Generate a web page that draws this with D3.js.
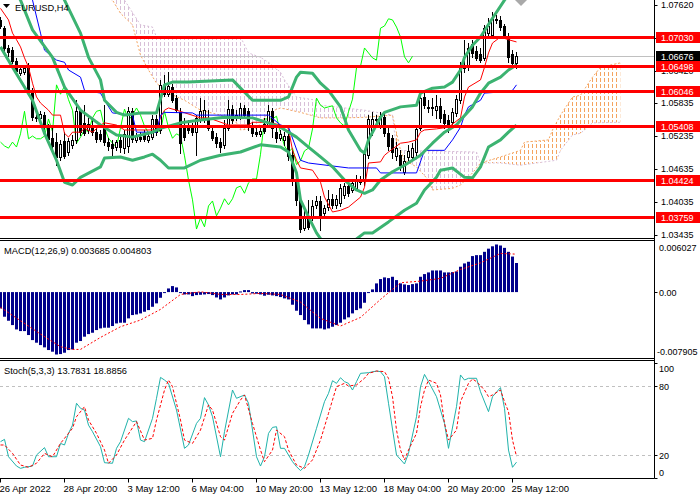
<!DOCTYPE html>
<html>
<head>
<meta charset="utf-8">
<script src="https://cdn.jsdelivr.net/npm/d3@7/dist/d3.min.js"></script>
<style>
  body { margin: 0; background: #fff; }
  svg { display: block; font-family: "Liberation Sans", Arial, sans-serif; font-size: 9.3px; }
  .axis { font-size: 9px; }
  .date { font-size: 9.5px; }
</style>
</head>
<body>
<div id="chart"></div>
<script>
// EURUSD H4 candles, bar 0 = 26 Apr 2022 04:00
const open = [
  1.0734,1.0719,1.0683,1.0679,1.0659,1.0638,1.0639,1.0648,1.0605,1.0558,
  1.0556,1.0561,1.0539,1.0519,1.0512,1.0485,1.0514,1.0494,1.0507,1.0516,
  1.0568,1.0547,1.0534,1.0541,1.0531,1.0527,1.0538,1.0512,1.0509,1.0503,
  1.0516,1.0501,1.0505,1.0568,1.0516,1.0521,1.0527,1.0516,1.0521,1.0554,
  1.0534,1.0616,1.0599,1.0612,1.0592,1.0567,1.0543,1.0543,1.0539,1.0531,
  1.0552,1.0556,1.0556,1.0532,1.0521,1.0512,1.0507,1.0538,1.0572,1.0556,
  1.0558,1.0574,1.0568,1.0539,1.0531,1.0527,1.0545,1.0543,1.0568,1.0531,
  1.0519,1.0516,1.0523,1.0489,1.0439,1.0407,1.0356,1.0374,1.0376,1.0398,
  1.0405,1.0383,1.0394,1.0409,1.0398,1.0401,1.0416,1.0432,1.0425,1.0429,
  1.0439,1.0441,1.0489,1.0532,1.0552,1.0543,1.0558,1.0529,1.0519,1.0487,
  1.0489,1.0458,1.0485,1.0485,1.0494,1.0538,1.0594,1.0576,1.0574,1.0570,
  1.0578,1.0563,1.0552,1.0549,1.0565,1.0589,1.0647,1.0648,1.0690,1.0678,
  1.0672,1.0665,1.0710,1.0707,1.0736,1.0734,1.0723,1.0701,1.0672,1.0656
]
const high = [
  1.0739,1.0723,1.0688,1.0685,1.0665,1.0650,1.0652,1.0656,1.0610,1.0570,
  1.0568,1.0567,1.0545,1.0538,1.0529,1.0516,1.0531,1.0519,1.0525,1.0589,
  1.0574,1.0579,1.0556,1.0552,1.0538,1.0534,1.0579,1.0519,1.0516,1.0516,
  1.0521,1.0534,1.0576,1.0574,1.0529,1.0531,1.0534,1.0531,1.0561,1.0561,
  1.0625,1.0634,1.0639,1.0618,1.0598,1.0574,1.0556,1.0552,1.0547,1.0561,
  1.0592,1.0589,1.0570,1.0538,1.0529,1.0519,1.0552,1.0589,1.0579,1.0570,
  1.0583,1.0579,1.0574,1.0549,1.0538,1.0539,1.0556,1.0579,1.0574,1.0538,
  1.0534,1.0531,1.0534,1.0498,1.0443,1.0416,1.0389,1.0407,1.0407,1.0414,
  1.0414,1.0398,1.0425,1.0418,1.0416,1.0436,1.0438,1.0436,1.0443,1.0452,
  1.0450,1.0498,1.0561,1.0567,1.0561,1.0567,1.0565,1.0538,1.0525,1.0512,
  1.0498,1.0489,1.0507,1.0510,1.0543,1.0601,1.0601,1.0589,1.0592,1.0598,
  1.0592,1.0570,1.0561,1.0574,1.0598,1.0658,1.0698,1.0692,1.0698,1.0687,
  1.0683,1.0725,1.0737,1.0748,1.0743,1.0741,1.0727,1.0710,1.0679,1.0676
]
const low = [
  1.0719,1.0676,1.0668,1.0656,1.0636,1.0634,1.0636,1.0599,1.0552,1.0550,
  1.0552,1.0534,1.0512,1.0498,1.0471,1.0480,1.0483,1.0489,1.0501,1.0510,
  1.0525,1.0525,1.0529,1.0525,1.0512,1.0514,1.0507,1.0498,1.0489,1.0498,
  1.0494,1.0492,1.0494,1.0512,1.0512,1.0514,1.0514,1.0512,1.0518,1.0525,
  1.0529,1.0596,1.0596,1.0585,1.0567,1.0492,1.0516,1.0529,1.0525,1.0489,
  1.0549,1.0549,1.0534,1.0516,1.0503,1.0494,1.0501,1.0534,1.0547,1.0552,
  1.0554,1.0556,1.0534,1.0523,1.0523,1.0523,1.0529,1.0539,1.0521,1.0512,
  1.0516,1.0507,1.0480,1.0434,1.0398,1.0349,1.0352,1.0354,1.0370,1.0392,
  1.0352,1.0378,1.0389,1.0392,1.0392,1.0396,1.0410,1.0414,1.0421,1.0425,
  1.0436,1.0434,1.0483,1.0525,1.0543,1.0538,1.0523,1.0498,1.0483,1.0480,
  1.0461,1.0454,1.0480,1.0480,1.0489,1.0534,1.0574,1.0567,1.0561,1.0556,
  1.0549,1.0538,1.0531,1.0543,1.0559,1.0583,1.0639,1.0643,1.0667,1.0661,
  1.0658,1.0661,1.0705,1.0703,1.0728,1.0716,1.0701,1.0658,1.0652,1.0647
]
const close = [
  1.0723,1.0683,1.0676,1.0659,1.0641,1.0645,1.0647,1.0605,1.0558,1.0556,
  1.0563,1.0539,1.0518,1.0505,1.0485,1.0509,1.0487,1.0514,1.0516,1.0568,
  1.0531,1.0529,1.0545,1.0531,1.0518,1.0518,1.0512,1.0505,1.0501,1.0512,
  1.0503,1.0527,1.0568,1.0518,1.0523,1.0518,1.0518,1.0523,1.0554,1.0531,
  1.0616,1.0599,1.0614,1.0589,1.0570,1.0510,1.0521,1.0534,1.0531,1.0556,
  1.0568,1.0570,1.0538,1.0519,1.0510,1.0503,1.0538,1.0572,1.0552,1.0561,
  1.0574,1.0561,1.0541,1.0529,1.0527,1.0532,1.0532,1.0568,1.0538,1.0519,
  1.0527,1.0523,1.0487,1.0443,1.0407,1.0354,1.0374,1.0358,1.0396,1.0405,
  1.0378,1.0392,1.0409,1.0398,1.0409,1.0429,1.0432,1.0419,1.0438,1.0445,
  1.0445,1.0490,1.0554,1.0554,1.0554,1.0559,1.0529,1.0505,1.0494,1.0501,
  1.0471,1.0478,1.0496,1.0501,1.0536,1.0592,1.0579,1.0574,1.0576,1.0578,
  1.0556,1.0547,1.0541,1.0567,1.0590,1.0647,1.0650,1.0683,1.0674,1.0665,
  1.0661,1.0719,1.0723,1.0736,1.0734,1.0721,1.0703,1.0667,1.0656,1.0668
]

// indicator lines as [bar index, value]
const tenkan = [[0,1.0755],[2,1.0734],[3,1.0710],[4,1.0698],[5,1.0685],[6,1.0665],[7,1.0648],[8,1.0619],[9,1.0594],[10,1.0583],[12,1.0570],[13,1.0561],[15,1.0561],[16,1.0528],[17,1.0521],[18,1.0530],[20,1.0530],[21,1.0537],[23,1.0530],[25,1.0543],[26,1.0547],[29,1.0543],[31,1.0534],[39,1.0534],[40,1.0557],[41,1.0570],[42,1.0574],[44,1.0570],[50,1.0556],[52,1.0556],[57,1.0543],[62,1.0543],[63,1.0548],[67,1.0548],[70,1.0543],[72,1.0537],[73,1.0497],[74,1.0479],[75,1.0465],[78,1.0461],[80,1.0439],[81,1.0412],[83,1.0385],[85,1.0388],[87,1.0394],[90,1.0412],[91,1.0430],[92,1.0474],[95,1.0476],[96,1.0488],[97,1.0494],[100,1.0510],[102,1.0512],[104,1.0516],[105,1.0530],[106,1.0534],[109,1.0536],[112,1.0539],[115,1.0556],[116,1.0594],[117,1.0612],[120,1.0625],[121,1.0648],[122,1.0674],[123,1.0692],[125,1.0703],[127,1.0698],[129,1.0694]]
const kijun = [[0,1.0861],[5,1.0806],[8,1.0770],[10,1.0710],[11,1.0679],[14,1.0661],[16,1.0657],[17,1.0643],[20,1.0630],[21,1.0606],[25,1.0601],[26,1.0588],[28,1.0565],[33,1.0561],[34,1.0530],[39,1.0530],[40,1.0561],[41,1.0566],[48,1.0565],[49,1.0561],[67,1.0561],[70,1.0543],[72,1.0539],[75,1.0479],[77,1.0474],[87,1.0465],[94,1.0465],[95,1.0456],[104,1.0456],[106,1.0497],[111,1.0497],[113,1.0516],[115,1.0539],[116,1.0561],[117,1.0576],[120,1.0588],[121,1.0601],[125,1.0603],[128,1.0606],[129,1.0616]]
const spanA = [[0,1.0843],[28,1.0770],[30,1.0746],[33,1.0725],[35,1.0670],[37,1.0643],[39,1.0619],[42,1.0601],[46,1.0588],[50,1.0570],[55,1.0561],[59,1.0547],[60,1.0534],[64,1.0537],[67,1.0566],[70,1.0574],[75,1.0566],[80,1.0556],[86,1.0556],[91,1.0557],[98,1.0561],[100,1.0497],[101,1.0479],[104,1.0467],[107,1.0443],[108,1.0425],[113,1.0428],[115,1.0434],[118,1.0456],[120,1.0474],[125,1.0485],[130,1.0497],[131,1.0512],[137,1.0516],[138,1.0534],[140,1.0561],[143,1.0594],[145,1.0597],[148,1.0630],[150,1.0648],[155,1.0656]]
const spanB = [[0,1.0916],[31,1.0770],[35,1.0725],[38,1.0721],[39,1.0703],[60,1.0703],[62,1.0674],[65,1.0666],[67,1.0657],[70,1.0639],[71,1.0625],[74,1.0594],[79,1.0588],[80,1.0579],[91,1.0570],[98,1.0561],[99,1.0497],[119,1.0494],[120,1.0474],[125,1.0474],[130,1.0470],[139,1.0479],[140,1.0497],[143,1.0525],[145,1.0528],[146,1.0534],[148,1.0547],[155,1.0548]]
const bbUpper = [[5,1.0916],[11,1.0843],[16,1.0770],[20,1.0710],[22,1.0666],[25,1.0625],[26,1.0588],[29,1.0566],[31,1.0561],[35,1.0565],[39,1.0565],[41,1.0616],[43,1.0621],[47,1.0621],[58,1.0625],[60,1.0610],[63,1.0588],[70,1.0588],[72,1.0594],[74,1.0630],[75,1.0639],[78,1.0637],[80,1.0619],[82,1.0606],[85,1.0576],[87,1.0534],[90,1.0497],[91,1.0492],[92,1.0516],[95,1.0557],[96,1.0566],[100,1.0576],[104,1.0579],[105,1.0601],[108,1.0610],[111,1.0612],[113,1.0621],[115,1.0643],[116,1.0666],[118,1.0688],[120,1.0703],[123,1.0737],[126,1.0770],[129,1.0797]]
const bbMiddle = [[0,1.0825],[5,1.0770],[8,1.0716],[13,1.0666],[16,1.0612],[20,1.0570],[25,1.0543],[29,1.0525],[33,1.0521],[38,1.0530],[40,1.0537],[45,1.0547],[50,1.0552],[56,1.0557],[63,1.0556],[67,1.0547],[70,1.0539],[74,1.0521],[77,1.0503],[80,1.0485],[83,1.0467],[86,1.0443],[89,1.0425],[91,1.0419],[93,1.0425],[95,1.0443],[98,1.0458],[101,1.0470],[105,1.0488],[108,1.0510],[111,1.0530],[114,1.0543],[115,1.0552],[118,1.0576],[120,1.0601],[122,1.0619],[125,1.0630],[127,1.0643],[129,1.0652]]
const bbLower = [[0,1.0685],[3,1.0648],[8,1.0588],[11,1.0528],[14,1.0479],[16,1.0439],[18,1.0434],[20,1.0448],[25,1.0467],[26,1.0483],[30,1.0485],[33,1.0479],[36,1.0485],[38,1.0490],[40,1.0479],[42,1.0465],[46,1.0465],[50,1.0479],[55,1.0488],[60,1.0494],[65,1.0507],[70,1.0503],[72,1.0494],[74,1.0456],[75,1.0407],[77,1.0376],[79,1.0347],[82,1.0316],[86,1.0312],[89,1.0336],[91,1.0347],[93,1.0347],[97,1.0367],[101,1.0388],[104,1.0401],[106,1.0425],[109,1.0448],[110,1.0461],[113,1.0465],[116,1.0448],[118,1.0447],[120,1.0467],[122,1.0503],[125,1.0516],[127,1.0530],[129,1.0543]]
const chikouShift = 26

const priceTicks = [1.07620, 1.07020, 1.06420, 1.05835, 1.05235, 1.04635, 1.04035, 1.03435]
const levels = [1.07030, 1.06498, 1.06046, 1.05408, 1.04424, 1.03759]
const bid = 1.06676

// MACD(12,26,9)
const macdHist = [
  -0.00207,-0.00312,-0.00363,-0.00418,-0.00473,-0.00494,-0.00494,-0.00544,-0.00608,-0.00641,
  -0.00671,-0.00700,-0.00734,-0.00755,-0.007905,-0.00785,-0.00768,-0.00734,-0.00726,-0.00641,
  -0.00620,-0.00565,-0.00532,-0.00515,-0.00481,-0.00460,-0.00451,-0.00451,-0.00430,-0.00397,
  -0.00388,-0.00388,-0.00333,-0.00291,-0.00283,-0.00270,-0.00249,-0.00228,-0.00186,-0.00143,
  -0.00072,-0.00008,0.00046,0.00076,0.00059,-0.00004,-0.00030,-0.00030,-0.00051,-0.00038,
  -0.00034,-0.00030,-0.00025,-0.00038,-0.00068,-0.00093,-0.00068,-0.00042,-0.00030,-0.00030,
  0.00008,0.00025,0.00025,-0.00017,-0.00021,-0.00030,-0.00046,-0.00034,-0.00042,-0.00051,
  -0.00063,-0.00080,-0.00093,-0.00160,-0.00236,-0.00291,-0.00354,-0.00409,-0.00460,-0.00460,
  -0.00460,-0.00473,-0.00460,-0.00439,-0.00418,-0.00388,-0.00346,-0.00320,-0.00270,-0.00228,
  -0.00207,-0.00135,-0.00008,0.00034,0.00110,0.00165,0.00186,0.00177,0.00194,0.00152,
  0.00110,0.00097,0.00089,0.00101,0.00110,0.00194,0.00228,0.00249,0.00274,0.00274,
  0.00274,0.00249,0.00249,0.00253,0.00262,0.00321,0.00363,0.00384,0.00456,0.00468,
  0.00468,0.00510,0.00550,0.00580,0.00603,0.00590,0.00560,0.00510,0.00450,0.003685
]
const macdSignal = [[0,-0.00194],[5,-0.00363],[10,-0.00532],[15,-0.00692],[18,-0.00726],[20,-0.00726],[25,-0.00574],[30,-0.00439],[35,-0.00354],[40,-0.00219],[45,-0.00030],[50,0.00004],[55,-0.00030],[60,-0.00030],[65,-0.00017],[70,-0.00030],[75,-0.00127],[80,-0.00333],[85,-0.00430],[90,-0.00321],[95,-0.00093],[100,0.00118],[105,0.00139],[110,0.00173],[115,0.00287],[120,0.00370],[125,0.00490],[129,0.004803]]
const macdRange = [-0.007905, 0.006027]

// Stochastic(5,3,3)
const stochK = [[0,31.6],[1,33.6],[2,18.5],[4,10.4],[5,8.4],[6,9.3],[8,10.4],[9,20],[11,26.4],[12,18.5],[14,18.5],[15,30.1],[16,28.7],[17,38.8],[18,46],[19,65],[20,60.6],[21,59],[22,46],[23,40.3],[25,27.2],[26,13.3],[28,12.8],[29,25.8],[30,31.6],[32,51.9],[33,49],[34,49.6],[35,33],[36,31.6],[38,51.9],[39,69.3],[40,87.5],[41,85.2],[42,82.3],[44,59.1],[46,25.8],[47,28.7],[49,47.5],[50,51.9],[51,69.9],[52,63.5],[53,53.3],[55,18.5],[56,40.3],[58,76.5],[59,69.3],[61,72.2],[62,65],[64,18.5],[65,10.4],[66,18.5],[67,38.8],[68,44],[69,44.6],[70,25.8],[71,25.8],[72,20],[73,14.2],[74,9.9],[75,6.4],[76,9.9],[77,20],[79,43.2],[81,66.4],[82,73.6],[83,84.6],[84,82.3],[85,87.2],[86,83.8],[87,82.3],[88,76.5],[89,83.8],[90,91],[92,91.6],[94,93],[95,92.5],[96,88.1],[97,65],[99,20],[101,12.2],[102,21.4],[104,53.3],[105,79.4],[106,90.1],[107,83.8],[109,70.7],[111,47.5],[112,25.8],[114,62],[115,89.6],[116,85.2],[117,86.7],[119,86.7],[120,75],[122,57.7],[123,70.7],[125,78.6],[126,60.6],[127,24.3],[128,9.3],[129,13.7831]]
const stochD = [[0,28.7],[1,28.7],[3,21.4],[5,11.3],[7,9.3],[9,12.8],[11,21.4],[13,18.5],[15,30.1],[18,43.2],[19,53.3],[21,62],[22,50.4],[24,38.8],[26,24.3],[27,12.8],[29,20],[31,33],[34,49],[36,33],[38,34.5],[39,50.4],[41,76.5],[42,85.2],[43,79.4],[45,50.4],[46,33],[48,30.1],[50,41.7],[52,63.5],[53,59.1],[55,35.9],[56,33],[58,56.2],[60,67.8],[61,72.2],[63,47.5],[65,24.3],[66,14.2],[68,24.3],[69,41.7],[71,35.9],[72,24.3],[74,11.3],[76,8.4],[78,15.7],[80,33],[82,56.2],[84,79.4],[86,82.3],[87,80],[89,80.9],[91,86.7],[92,91],[94,93],[96,92.5],[97,86.7],[98,70.7],[99,41.7],[100,24.3],[101,15.7],[102,24.3],[104,38.8],[105,62],[106,76.5],[107,85.2],[109,82.3],[110,72.2],[111,47.5],[112,33],[114,41.7],[115,66.4],[117,82.3],[118,86.1],[119,83.8],[121,76.5],[122,70.7],[123,72.2],[125,76.5],[126,66.4],[127,57.7],[128,33],[129,18.8856]]
const stochLevels = [80, 20]
const stochTicks = [100, 80, 20, 0]

const dateTicks = [0, 16, 32, 48, 64, 80, 96, 112, 128]
const dateLabels = ["26 Apr 2022", "28 Apr 20:00", "3 May 12:00", "6 May 04:00", "10 May 20:00",
  "13 May 12:00", "18 May 04:00", "20 May 20:00", "25 May 12:00"]

const W = 700, H = 500
const axisX = 654.5
const main = { top: 0, bottom: 238.5 }
const macdP = { top: 240.5, bottom: 358.5 }
const stochP = { top: 360.5, bottom: 478.5 }

const svg = d3.select("#chart").append("svg").attr("width", W).attr("height", H)
const defs = svg.append("defs")

// one bar every 4px
const x = d3.scaleLinear().domain([0, 1]).range([0.5, 4.5])
const y = d3.scaleLinear().domain([1.0343, 1.0770]).range([235.1, 0.1])
const ym = d3.scaleLinear().domain(macdRange).range([354.5, 244.5])
const ys = d3.scaleLinear().domain([0, 100]).range([478, 363])

const clip = (id, top, bottom) =>
  defs.append("clipPath").attr("id", id).append("rect")
    .attr("x", 0).attr("y", top).attr("width", axisX).attr("height", bottom - top)
clip("clipMain", main.top, main.bottom)
clip("clipMacd", macdP.top, macdP.bottom)
clip("clipStoch", stochP.top, stochP.bottom)

const hatch = (id, color) => {
  const p = defs.append("pattern").attr("id", id)
    .attr("patternUnits", "userSpaceOnUse").attr("width", 4).attr("height", 6)
  p.append("rect").attr("x", 0).attr("y", 0).attr("width", 1).attr("height", 4).attr("fill", color)
}
hatch("hatchUp", "#F4A460")
hatch("hatchDn", "#D8BFD8")

const line = (sy) => d3.line().x((d) => x(d[0])).y((d) => sy(d[1]))
const above = d3.area().x((d) => x(d[0])).y0(-1000).y1((d) => y(d[1]))
const below = d3.area().x((d) => x(d[0])).y0(2000).y1((d) => y(d[1]))

defs.append("clipPath").attr("id", "belowA").append("path").attr("d", below(spanA))
defs.append("clipPath").attr("id", "belowB").append("path").attr("d", below(spanB))

// ---- main window ----
const g = svg.append("g").attr("clip-path", "url(#clipMain)")

// Kumo: orange where span A is on top, thistle where span B is
g.append("g").attr("clip-path", "url(#belowA)")
  .append("path").attr("d", above(spanB)).attr("fill", "url(#hatchUp)")
g.append("g").attr("clip-path", "url(#belowB)")
  .append("path").attr("d", above(spanA)).attr("fill", "url(#hatchDn)")

g.append("path").attr("d", line(y)(spanA)).attr("fill", "none")
  .attr("stroke", "#F4A460").attr("stroke-dasharray", "2,2")
g.append("path").attr("d", line(y)(spanB)).attr("fill", "none")
  .attr("stroke", "#D8BFD8").attr("stroke-dasharray", "2,2")

// bid line
g.append("line").attr("x1", 0).attr("x2", axisX)
  .attr("y1", Math.round(y(bid)) + 0.5).attr("y2", Math.round(y(bid)) + 0.5)
  .attr("stroke", "#C0C0C0")

// chikou span = close plotted 26 bars back
g.append("path")
  .attr("d", d3.line().x((d, k) => x(k)).y((d) => y(d))(close.slice(chikouShift)))
  .attr("fill", "none").attr("stroke", "#00FF00")

// candles
const bars = d3.range(close.length)
g.append("g").selectAll("line").data(bars).join("line")
  .attr("x1", (i) => x(i)).attr("x2", (i) => x(i))
  .attr("y1", (i) => Math.round(y(high[i]))).attr("y2", (i) => Math.round(y(low[i])) + 1)
  .attr("stroke", "#000")
g.append("g").selectAll("rect").data(bars).join("rect")
  .each(function (i) {
    const up = close[i] >= open[i]
    const t = Math.round(y(Math.max(open[i], close[i])))
    const b = Math.round(y(Math.min(open[i], close[i])))
    const r = d3.select(this)
    if (up) {
      r.attr("x", x(i) - 1).attr("width", 2)
        .attr("y", t + 0.5).attr("height", Math.max(1, b - t))
        .attr("fill", "#fff").attr("stroke", "#000")
    } else {
      r.attr("x", x(i) - 1.5).attr("width", 3)
        .attr("y", t).attr("height", Math.max(1, b - t + 1))
        .attr("fill", "#000")
    }
  })

g.append("path").attr("d", line(y)(tenkan)).attr("fill", "none").attr("stroke", "#FF0000")
g.append("path").attr("d", line(y)(kijun)).attr("fill", "none").attr("stroke", "#0000FF")

// Bollinger bands
;[bbUpper, bbMiddle, bbLower].forEach((band) => {
  g.append("path").attr("d", line(y)(band)).attr("fill", "none")
    .attr("stroke", "#3CB371").attr("stroke-width", 3).attr("stroke-linejoin", "round")
})

// horizontal levels
g.selectAll("line.level").data(levels).join("line").attr("class", "level")
  .attr("x1", 0).attr("x2", axisX)
  .attr("y1", (d) => Math.round(y(d)) + 0.5).attr("y2", (d) => Math.round(y(d)) + 0.5)
  .attr("stroke", "#FF0000").attr("stroke-width", 3)

// title
svg.append("path").attr("d", "M3,4 L10,4 L6.5,8 Z").attr("fill", "#000")
svg.append("text").attr("x", 15).attr("y", 10.5).text("EURUSD,H4")
// chart shift marker
svg.append("path").attr("d", "M515,0 L527,0 L521,6 Z").attr("fill", "#A9A9A9")

// ---- MACD window ----
const gm = svg.append("g").attr("clip-path", "url(#clipMacd)")
gm.selectAll("rect").data(macdHist).join("rect")
  .attr("x", (d, i) => x(i) - 1.5).attr("width", 3)
  .attr("y", (d) => Math.min(ym(0), ym(d)))
  .attr("height", (d) => Math.max(1, Math.abs(ym(d) - ym(0))))
  .attr("fill", "#00008B")
gm.append("path").attr("d", line(ym)(macdSignal)).attr("fill", "none")
  .attr("stroke", "#FF0000").attr("stroke-dasharray", "2,2")
svg.append("text").attr("x", 4).attr("y", 253.5)
  .text(`MACD(12,26,9) ${macdHist[macdHist.length - 1].toFixed(6)} ${macdSignal[macdSignal.length - 1][1].toFixed(6)}`)

// ---- Stochastic window ----
const gs = svg.append("g").attr("clip-path", "url(#clipStoch)")
gs.selectAll("line").data(stochLevels).join("line")
  .attr("x1", 0).attr("x2", axisX)
  .attr("y1", (d) => Math.round(ys(d)) + 0.5).attr("y2", (d) => Math.round(ys(d)) + 0.5)
  .attr("stroke", "#C0C0C0").attr("stroke-dasharray", "3,3")
gs.append("path").attr("d", line(ys)(stochK)).attr("fill", "none").attr("stroke", "#20B2AA")
gs.append("path").attr("d", line(ys)(stochD)).attr("fill", "none")
  .attr("stroke", "#FF0000").attr("stroke-dasharray", "3,2")
svg.append("text").attr("x", 4).attr("y", 373.5)
  .text(`Stoch(5,3,3) ${stochK[stochK.length - 1][1].toFixed(4)} ${stochD[stochD.length - 1][1].toFixed(4)}`)

// ---- frames ----
;[main.bottom, macdP.top, macdP.bottom, stochP.top, stochP.bottom].forEach((yy) => {
  svg.append("line").attr("x1", 0).attr("x2", axisX).attr("y1", yy).attr("y2", yy).attr("stroke", "#000")
})
svg.append("line").attr("x1", axisX).attr("x2", axisX).attr("y1", 0).attr("y2", stochP.bottom)
  .attr("stroke", "#000")

// ---- price axis ----
const fmt5 = d3.format(".5f")
const ax = svg.append("g").attr("class", "axis")
const tick = (yy) => ax.append("line").attr("x1", axisX).attr("x2", axisX + 3)
  .attr("y1", Math.round(yy) + 0.5).attr("y2", Math.round(yy) + 0.5).attr("stroke", "#000")

priceTicks.forEach((p) => {
  tick(y(p))
  ax.append("text").attr("x", 661).attr("y", y(p) + 3.5).text(fmt5(p))
})

ax.append("rect").attr("x", 656).attr("y", Math.round(y(bid)) - 5).attr("width", 44).attr("height", 10).attr("fill", "#000")
ax.append("text").attr("x", 661).attr("y", y(bid) + 3.5).attr("fill", "#fff").text(fmt5(bid))

levels.forEach((p) => {
  ax.append("rect").attr("x", 656).attr("y", Math.round(y(p)) - 5).attr("width", 44).attr("height", 11).attr("fill", "#FF0000")
  ax.append("text").attr("x", 661).attr("y", y(p) + 4).attr("fill", "#fff").text(fmt5(p))
})

// MACD axis
tick(ym(0))
ax.append("text").attr("x", 659).attr("y", 251).text(macdRange[1].toFixed(6))
ax.append("text").attr("x", 659).attr("y", ym(0) + 3.5).text("0.00")
ax.append("text").attr("x", 657).attr("y", 355).text(macdRange[0].toFixed(6))

// Stoch axis
stochTicks.forEach((v) => {
  tick(ys(v))
  const yy = v === 100 ? 371.5 : v === 0 ? 476 : ys(v) + 3.5
  ax.append("text").attr("x", 659).attr("y", yy).text(v)
})

// ---- time axis ----
dateTicks.forEach((i, k) => {
  svg.append("line").attr("x1", x(i)).attr("x2", x(i)).attr("y1", stochP.bottom).attr("y2", stochP.bottom + 4)
    .attr("stroke", "#000")
  svg.append("text").attr("class", "date").attr("x", x(i) - 1).attr("y", 492).text(dateLabels[k])
})
</script>
</body>
</html>
